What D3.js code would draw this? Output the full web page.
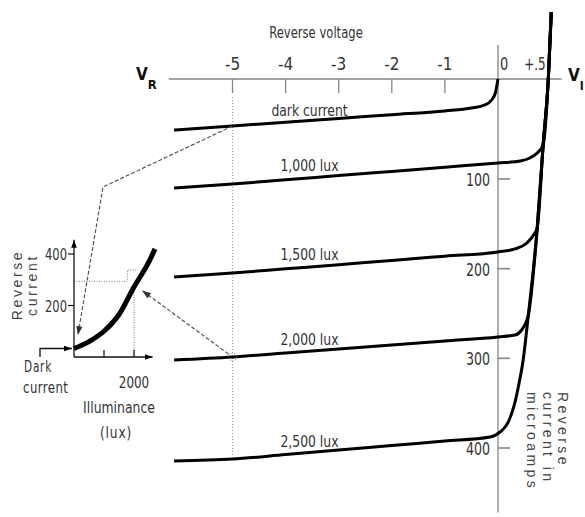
<!DOCTYPE html>
<html><head><meta charset="utf-8">
<script src="https://cdn.jsdelivr.net/npm/d3@7"></script>
<style>
html,body{margin:0;padding:0;background:#fff;}
svg{display:block;}
.nar{font-family:"Liberation Sans Narrow","DejaVu Sans Condensed","Arial Narrow",sans-serif;fill:#333;}
.sp{font-family:"Liberation Sans",Arial,sans-serif;fill:#444;}
.bold{font-family:"DejaVu Sans Condensed","Liberation Sans Narrow",sans-serif;font-weight:bold;fill:#111;}
</style></head><body>
<svg id="c" width="585" height="517"></svg>
<script>
// ---------------- data ----------------
const voltageTicks = [-5, -4, -3, -2, -1];
const voltageLabelValues = [-5, -4, -3, -2, -1, 0, 0.5];
const voltageLabels = ["-5", "-4", "-3", "-2", "-1", "0", "+.5"];
const currentTicks = [100, 200, 300, 400];

const curveNames = ["dark current", "1,000 lux", "1,500 lux", "2,000 lux", "2,500 lux"];

const darkV = [-6.1, -5, -4, -3, -2, -1, -0.5, -0.25, -0.12, -0.05, 0];
const darkI = [51, 47, 43.2, 39.4, 35.7, 31.9, 29, 26, 21, 14, 0];

const lux1000V = [-6.1, -5, -4, -3, -2, -1, 0, 0.3, 0.43, 0.53, 0.61, 0.68, 0.72];
const lux1000I = [110, 105.6, 100.8, 96.6, 92.4, 88.2, 84, 82, 79, 74, 66, 0, -67];

const lux1500V = [-6.1, -5, -4, -3, -2, -1, 0, 0.23, 0.39, 0.49, 0.53, 0.61, 0.68, 0.72];
const lux1500I = [209.3, 204.9, 200.2, 195.5, 190.8, 186.1, 181.4, 178, 171.4, 161.3, 154.6, 66, 0, -67];

const lux2000V = [-6.1, -5, -4, -3, -2, -1, 0, 0.23, 0.32, 0.38, 0.41, 0.53, 0.61, 0.68, 0.72];
const lux2000I = [301.8, 298.5, 294, 289.6, 285.1, 280.7, 276.2, 274, 268.4, 259.5, 251.7, 154.6, 66, 0, -67];

const lux2500V = [-6.1, -5, -4, -3, -2, -1, -0.15, 0.03, 0.14, 0.22, 0.28, 0.34, 0.41, 0.53, 0.61, 0.68, 0.72];
const lux2500I = [414.5, 412.3, 407.3, 402.3, 397.2, 392.2, 387.7, 382.1, 371, 352, 329.7, 301.8, 251.7, 154.6, 66, 0, -67];

// inset: reverse current vs illuminance
const insetLux = [0, 500, 1000, 1500, 2000, 2500, 2700];
const insetCurrent = [33, 60, 100, 165, 272, 370, 420];
const insetLuxTicks = [1000, 2000];
const insetLuxLabels = ["", "2000"];
const insetCurrentTicks = [200, 400];

// ---------------- scales ----------------
const svg = d3.select("#c");
const x = d3.scaleLinear().domain([-5, 0, 0.5]).range([232.5, 498, 535]);
const y = d3.scaleLinear().domain([0, 100, 400]).range([79, 179, 448]);
const ix = d3.scaleLinear().domain([0, 2000]).range([74, 134]);
const iy = d3.scaleLinear().domain([0, 400]).range([357, 254]);

// condense text horizontally (narrow pixel-style font look)
function squeeze(sel, f) {
  sel.each(function () {
    const w = this.getComputedTextLength();
    if (w > 0) {
      this.setAttribute("textLength", (w * f).toFixed(1));
      this.setAttribute("lengthAdjust", "spacingAndGlyphs");
    }
  });
  return sel;
}

const defs = svg.append("defs");
function marker(id, color, size) {
  defs.append("marker").attr("id", id).attr("viewBox", "0 0 10 10")
    .attr("refX", 10).attr("refY", 5).attr("markerWidth", size).attr("markerHeight", size)
    .attr("markerUnits", "userSpaceOnUse").attr("orient", "auto")
    .append("path").attr("d", "M0,1.5 L10,5 L0,8.5 Z").attr("fill", color);
}
marker("ahGrey", "#333", 9);
marker("ahBlack", "#000", 8);

// ---------------- main chart axes ----------------
const axisCol = "#858585";
svg.append("line").attr("x1", x(-5)).attr("x2", x(-5)).attr("y1", y(18)).attr("y2", y(410))
  .attr("stroke", "#999").attr("stroke-width", 1).attr("stroke-dasharray", "1,2");

svg.append("line").attr("x1", x(-6.2)).attr("x2", x(0.86)).attr("y1", y(0)).attr("y2", y(0))
  .attr("stroke", axisCol).attr("stroke-width", 1.6);
svg.append("line").attr("x1", x(0)).attr("x2", x(0)).attr("y1", y(-34)).attr("y2", y(472))
  .attr("stroke", axisCol).attr("stroke-width", 1.3);

svg.selectAll(".vt").data(voltageTicks).enter().append("line")
  .attr("x1", d => x(d)).attr("x2", d => x(d)).attr("y1", y(0)).attr("y2", y(0) + 14)
  .attr("stroke", axisCol).attr("stroke-width", 1.3);
const vlab = svg.selectAll(".vl").data(voltageLabelValues).enter().append("text").attr("class", "nar")
  .attr("x", d => d === 0 ? x(d) + 2 : x(d))
  .attr("y", 70).attr("text-anchor", d => d === 0 ? "start" : "middle")
  .style("font-size", "17px")
  .text((d, i) => voltageLabels[i]);
squeeze(vlab.filter(d => d === 0.5), 0.78);
squeeze(vlab.filter(d => d === 0), 0.85);

svg.selectAll(".ct").data(currentTicks).enter().append("line")
  .attr("x1", x(0)).attr("x2", x(0) + 12).attr("y1", d => y(d)).attr("y2", d => y(d))
  .attr("stroke", axisCol).attr("stroke-width", 1.6);
squeeze(svg.selectAll(".cl").data(currentTicks).enter().append("text").attr("class", "nar")
  .attr("x", x(0) - 8).attr("y", d => y(d) + 7).attr("text-anchor", "end")
  .style("font-size", "18px").text(d => d), 0.78);

squeeze(svg.append("text").attr("class", "nar").attr("x", 316).attr("y", 38).attr("text-anchor", "middle")
  .style("font-size", "15px").text("Reverse voltage"), 0.86);

// V_R and V_I
const vr = svg.append("text").attr("class", "bold").attr("x", 136).attr("y", 80).style("font-size", "17px");
vr.append("tspan").text("V");
vr.append("tspan").attr("dy", 9).style("font-size", "13px").text("R");
const vi = svg.append("text").attr("class", "bold").attr("x", 568).attr("y", 81).style("font-size", "17px");
vi.append("tspan").text("V");
vi.append("tspan").attr("dy", 9).style("font-size", "12px").text("I");

// right axis title
const rt = svg.append("text").attr("class", "sp").attr("transform", `translate(558,392) rotate(90)`)
  .style("font-size", "14px").style("letter-spacing", "3.4px");
["Reverse", "current in", "microamps"].forEach((t, i) =>
  rt.append("tspan").attr("x", 0).attr("dy", i === 0 ? 0 : 15.5).text(t));

// ---------------- curves ----------------
const series = [
  {name: curveNames[0], v: darkV, i: darkI, off: 4},
  {name: curveNames[1], v: lux1000V, i: lux1000I, off: 7},
  {name: curveNames[2], v: lux1500V, i: lux1500I, off: 7},
  {name: curveNames[3], v: lux2000V, i: lux2000I, off: 6},
  {name: curveNames[4], v: lux2500V, i: lux2500I, off: 6}
];
const lineGen = d3.line().x(d => x(d[0])).y(d => y(d[1])).curve(d3.curveMonotoneX);
series.forEach(s => {
  svg.append("path").attr("d", lineGen(d3.zip(s.v, s.i)))
    .attr("fill", "none").attr("stroke", "#000").attr("stroke-width", 3)
    .attr("stroke-linejoin", "round");
});
const labelV = -3.55;
series.forEach(s => {
  const k = s.v.findIndex(v => v > labelV);
  const t = (labelV - s.v[k - 1]) / (s.v[k] - s.v[k - 1]);
  const iv = s.i[k - 1] + t * (s.i[k] - s.i[k - 1]);
  squeeze(svg.append("text").attr("class", "nar").attr("x", x(labelV)).attr("y", y(iv) - s.off)
    .attr("text-anchor", "middle").style("font-size", "16px").text(s.name), 0.86);
});

// circle marker at the 2,000 lux point
svg.append("circle").attr("cx", x(-5)).attr("cy", y(lux2000I[1])).attr("r", 4)
  .attr("fill", "none").attr("stroke", "#777").attr("stroke-width", 1).attr("stroke-dasharray", "1,1.5");

// ---------------- pointer lines ----------------
svg.append("path")
  .attr("d", d3.line()([[x(-5), y(darkI[1])], [103, 187], [ix(130), iy(85)]]))
  .attr("fill", "none").attr("stroke", "#555").attr("stroke-width", 1.2)
  .attr("stroke-dasharray", "4,2").attr("marker-end", "url(#ahGrey)");
svg.append("path")
  .attr("d", d3.line()([[x(-5) - 4, y(lux2000I[1]) - 3], [ix(2270), iy(258)]]))
  .attr("fill", "none").attr("stroke", "#555").attr("stroke-width", 1.2)
  .attr("stroke-dasharray", "4,2").attr("marker-end", "url(#ahGrey)");

// ---------------- inset ----------------
svg.append("path").attr("d", d3.line()([[ix(0), iy(294)], [ix(1780), iy(294)], [ix(1780), iy(338)], [ix(2130), iy(338)]]))
  .attr("fill", "none").attr("stroke", "#777").attr("stroke-width", 1).attr("stroke-dasharray", "1,1.5");
svg.append("line").attr("x1", ix(2000)).attr("x2", ix(2000)).attr("y1", iy(262)).attr("y2", iy(0))
  .attr("stroke", "#777").attr("stroke-width", 1).attr("stroke-dasharray", "1,1.5");

svg.append("line").attr("x1", ix(0)).attr("x2", ix(0)).attr("y1", iy(0)).attr("y2", iy(455))
  .attr("stroke", "#111").attr("stroke-width", 1.3).attr("marker-end", "url(#ahBlack)");
svg.append("line").attr("x1", ix(0)).attr("x2", ix(2620)).attr("y1", iy(0)).attr("y2", iy(0))
  .attr("stroke", "#111").attr("stroke-width", 1.3).attr("marker-end", "url(#ahBlack)");
svg.selectAll(".it").data(insetLuxTicks).enter().append("line")
  .attr("x1", d => ix(d)).attr("x2", d => ix(d)).attr("y1", iy(0)).attr("y2", iy(0) - 7)
  .attr("stroke", "#111").attr("stroke-width", 1.2);
squeeze(svg.selectAll(".itl").data(insetLuxTicks).enter().append("text").attr("class", "nar")
  .attr("x", d => ix(d)).attr("y", 388).attr("text-anchor", "middle")
  .style("font-size", "16px").text((d, i) => insetLuxLabels[i]), 0.83);
svg.selectAll(".ict").data(insetCurrentTicks).enter().append("line")
  .attr("x1", ix(0) - 6).attr("x2", ix(0)).attr("y1", d => iy(d)).attr("y2", d => iy(d))
  .attr("stroke", "#111").attr("stroke-width", 1.2);
squeeze(svg.selectAll(".icl").data(insetCurrentTicks).enter().append("text").attr("class", "nar")
  .attr("x", ix(0) - 7).attr("y", d => iy(d) + 6).attr("text-anchor", "end")
  .style("font-size", "16px").text(d => d), 0.8);

svg.append("path").attr("d", d3.line().x(d => ix(d[0])).y(d => iy(d[1])).curve(d3.curveMonotoneX)(d3.zip(insetLux, insetCurrent)))
  .attr("fill", "none").attr("stroke", "#000").attr("stroke-width", 5);

// dark current bracket arrow
svg.append("path").attr("d", d3.line()([[ix(0) - 34, iy(0)], [ix(0) - 34, iy(insetCurrent[0])], [ix(0) - 2, iy(insetCurrent[0])]]))
  .attr("fill", "none").attr("stroke", "#111").attr("stroke-width", 1.3).attr("marker-end", "url(#ahBlack)");

squeeze(svg.append("text").attr("class", "nar").attr("x", 24).attr("y", 372).style("font-size", "15px")
  .style("letter-spacing", "1px").text("Dark"), 0.78);
squeeze(svg.append("text").attr("class", "nar").attr("x", 23).attr("y", 393).style("font-size", "15px")
  .style("letter-spacing", "0.5px").text("current"), 0.87);
squeeze(svg.append("text").attr("class", "nar").attr("x", 119).attr("y", 413).attr("text-anchor", "middle")
  .style("font-size", "15px").text("Illuminance"), 0.92);
squeeze(svg.append("text").attr("class", "nar").attr("x", 116).attr("y", 438).attr("text-anchor", "middle")
  .style("font-size", "15px").style("letter-spacing", "1px").text("(lux)"), 0.9);

const yl = svg.append("text").attr("class", "sp").attr("transform", "translate(22,285) rotate(-90)")
  .attr("text-anchor", "middle").style("font-size", "14px").style("letter-spacing", "2.6px");
["Reverse", "current"].forEach((t, i) => yl.append("tspan").attr("x", 0).attr("dy", i === 0 ? 0 : 15).text(t));
</script>
</body></html>
